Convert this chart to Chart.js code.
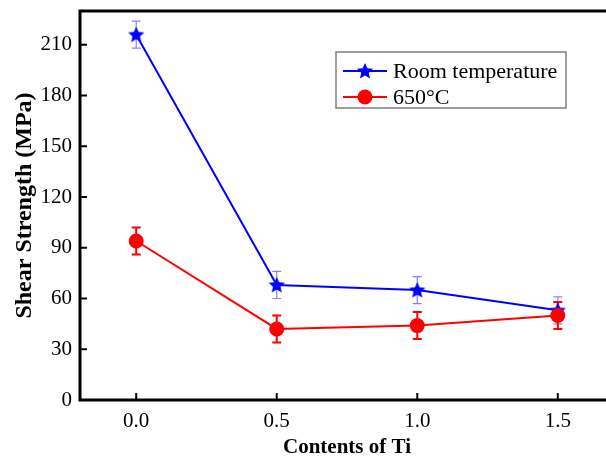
<!DOCTYPE html>
<html>
<head>
<meta charset="utf-8">
<script src="https://cdn.jsdelivr.net/npm/chart.js@4"></script>
<style>
    html, body { margin: 0; padding: 0; overflow: hidden; background: #fff; }
    .chart { width: 625px; height: 464px; }
</style>
</head>
<body onload="onInit()">
<div class="chart"><canvas id="myChart" width="625" height="464"></canvas></div>
<script>
'use strict'

const tiContents = [0, 0.5, 1.0, 1.5]
const roomTemp = [216, 68, 65, 53]
const roomTempErr = [8, 8, 8, 8]
const hot650 = [94, 42, 44, 50]
const hot650Err = [8, 8, 8, 8]
const xTicks = [0, 0.5, 1.0, 1.5]
const yTicks = [0, 30, 60, 90, 120, 150, 180, 210]
const seriesLabels = ['Room temperature', '650°C']

const FONT = "'Liberation Serif', 'Times New Roman', serif"

var gChart

function onInit() {
    renderChart()
}

function makeStar(size, color) {
    const elCanvas = document.createElement('canvas')
    elCanvas.width = size
    elCanvas.height = size
    const ctx = elCanvas.getContext('2d')
    const c = size / 2
    const outer = size / 2 - 0.5
    const inner = outer * 0.47
    ctx.beginPath()
    for (let i = 0; i < 10; i++) {
        const r = (i % 2) ? inner : outer
        const a = -Math.PI / 2 + i * Math.PI / 5
        ctx.lineTo(c + r * Math.cos(a), c + 0.5 + r * Math.sin(a))
    }
    ctx.closePath()
    ctx.fillStyle = color
    ctx.fill()
    return elCanvas
}

const errorBarsPlugin = {
    id: 'errorBars',
    beforeDatasetsDraw(chart) {
        const ctx = chart.ctx
        const xScale = chart.scales.x
        const yScale = chart.scales.y
        chart.data.datasets.forEach(ds => {
            ctx.save()
            ctx.strokeStyle = ds.errColor
            ctx.lineWidth = ds.errWidth
            ds.data.forEach((pt, i) => {
                const x = xScale.getPixelForValue(pt.x)
                const yTop = yScale.getPixelForValue(pt.y + ds.errors[i])
                const yBot = yScale.getPixelForValue(pt.y - ds.errors[i])
                ctx.beginPath()
                ctx.moveTo(x, yTop)
                ctx.lineTo(x, yBot)
                ctx.moveTo(x - 4.5, yTop)
                ctx.lineTo(x + 4.5, yTop)
                ctx.moveTo(x - 4.5, yBot)
                ctx.lineTo(x + 4.5, yBot)
                ctx.stroke()
            })
            ctx.restore()
        })
    }
}

const framePlugin = {
    id: 'frame',
    afterDraw(chart) {
        const ctx = chart.ctx
        const area = chart.chartArea
        const xScale = chart.scales.x
        const yScale = chart.scales.y
        ctx.save()
        ctx.strokeStyle = '#000'
        ctx.lineWidth = 2
        ctx.beginPath()
        xTicks.forEach(v => {
            const x = xScale.getPixelForValue(v)
            ctx.moveTo(x, area.bottom)
            ctx.lineTo(x, area.bottom - 7)
        })
        yTicks.forEach(v => {
            const y = yScale.getPixelForValue(v)
            ctx.moveTo(area.left, y)
            ctx.lineTo(area.left + 7, y)
        })
        ctx.stroke()
        ctx.lineWidth = 3
        ctx.strokeRect(area.left, area.top, area.right - area.left, area.bottom - area.top)
        ctx.restore()
    }
}

const legendPlugin = {
    id: 'boxLegend',
    afterDraw(chart) {
        const ctx = chart.ctx
        ctx.save()
        ctx.strokeStyle = '#808080'
        ctx.lineWidth = 1.5
        ctx.strokeRect(336, 52, 230, 56)
        chart.data.datasets.forEach((ds, i) => {
            const y = 71 + i * 26
            ctx.strokeStyle = ds.borderColor
            ctx.lineWidth = 2
            ctx.beginPath()
            ctx.moveTo(343, y)
            ctx.lineTo(387, y)
            ctx.stroke()
            if (ds.pointStyle === 'circle') {
                ctx.fillStyle = ds.pointBackgroundColor
                ctx.beginPath()
                ctx.arc(365, y, 7.5, 0, Math.PI * 2)
                ctx.fill()
            } else {
                const img = ds.pointStyle
                ctx.drawImage(img, 365 - img.width / 2, y - img.height / 2)
            }
            ctx.fillStyle = '#000'
            ctx.font = '22px ' + FONT
            ctx.textBaseline = 'middle'
            ctx.fillText(ds.label, 393, y + 1)
        })
        ctx.restore()
    }
}

function renderChart() {
    const ctx = document.getElementById('myChart')
    gChart = new Chart(ctx, {
        type: 'line',
        data: {
            datasets: [{
                label: seriesLabels[0],
                data: tiContents.map((x, i) => ({ x, y: roomTemp[i] })),
                errors: roomTempErr,
                errColor: 'rgba(80, 80, 235, 0.7)',
                errWidth: 1.2,
                borderColor: '#0000ff',
                borderWidth: 2,
                pointStyle: makeStar(18, '#0000ff'),
                pointBackgroundColor: '#0000ff',
                pointRadius: 9,
                order: 2
            }, {
                label: seriesLabels[1],
                data: tiContents.map((x, i) => ({ x, y: hot650[i] })),
                errors: hot650Err,
                errColor: '#ff0000',
                errWidth: 2,
                borderColor: '#ff0000',
                borderWidth: 2,
                pointStyle: 'circle',
                pointBackgroundColor: '#ff0000',
                pointBorderColor: '#ff0000',
                pointBorderWidth: 0,
                pointRadius: 7.5,
                order: 1
            }]
        },
        options: {
            responsive: false,
            animation: false,
            devicePixelRatio: 1,
            layout: { padding: { top: 11, right: 0, left: 0, bottom: 0 } },
            plugins: {
                legend: { display: false },
                tooltip: { enabled: false }
            },
            scales: {
                x: {
                    type: 'linear',
                    min: -0.2,
                    max: 1.7,
                    afterBuildTicks: scale => { scale.ticks = xTicks.map(value => ({ value })) },
                    afterFit: scale => {
                        scale.height = 64
                        scale.paddingLeft = 0
                        scale.paddingRight = 0
                    },
                    grid: { display: false },
                    border: { display: false },
                    ticks: {
                        padding: 1,
                        color: '#000',
                        font: { family: FONT, size: 21 },
                        callback: v => v.toFixed(1)
                    },
                    title: {
                        display: true,
                        text: 'Contents of Ti',
                        color: '#000',
                        font: { family: FONT, size: 21, weight: 'bold' },
                        padding: { top: 0, bottom: 4 }
                    }
                },
                y: {
                    type: 'linear',
                    min: 0,
                    max: 230,
                    afterBuildTicks: scale => { scale.ticks = yTicks.map(value => ({ value })) },
                    afterFit: scale => {
                        scale.width = 80
                        scale.paddingTop = 0
                        scale.paddingBottom = 0
                    },
                    grid: { display: false },
                    border: { display: false },
                    ticks: {
                        padding: 0,
                        color: '#000',
                        font: { family: FONT, size: 21 }
                    },
                    title: {
                        display: true,
                        text: 'Shear Strength (MPa)',
                        color: '#000',
                        font: { family: FONT, size: 24, weight: 'bold' },
                        padding: { top: 10, bottom: 0 }
                    }
                }
            }
        },
        plugins: [errorBarsPlugin, framePlugin, legendPlugin]
    })
}
</script>
</body>
</html>
